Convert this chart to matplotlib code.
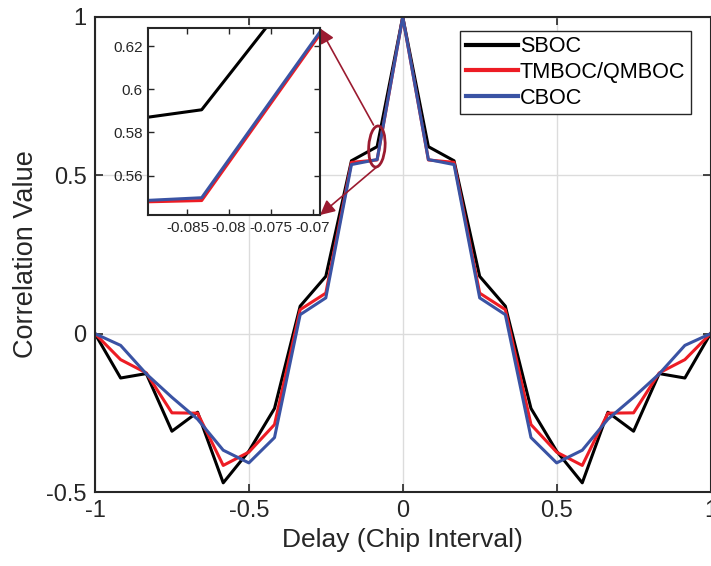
import matplotlib
matplotlib.use("Agg")
import matplotlib.pyplot as plt
from matplotlib.patches import Ellipse

plt.rcParams["font.family"] = ["Liberation Sans", "DejaVu Sans"]

# delay grid (chip interval), step 1/12
delay = [-1.0, -0.9167, -0.8333, -0.75, -0.6667, -0.5833, -0.5, -0.4167, -0.3333,
         -0.25, -0.1667, -0.0833, 0.0, 0.0833, 0.1667, 0.25, 0.3333, 0.4167, 0.5,
         0.5833, 0.6667, 0.75, 0.8333, 0.9167, 1.0]

sboc = [0.0, -0.140, -0.126, -0.308, -0.248, -0.471, -0.371, -0.236, 0.087, 0.181,
        0.546, 0.5905, 1.0, 0.5905, 0.546, 0.181, 0.087, -0.236, -0.371, -0.471,
        -0.248, -0.308, -0.126, -0.140, 0.0]
tmboc = [0.0, -0.082, -0.124, -0.250, -0.251, -0.416, -0.374, -0.287, 0.076, 0.128,
         0.541, 0.5485, 1.0, 0.5485, 0.541, 0.128, 0.076, -0.287, -0.374, -0.416,
         -0.251, -0.250, -0.124, -0.082, 0.0]
cboc = [0.0, -0.037, -0.127, -0.201, -0.270, -0.368, -0.408, -0.328, 0.060, 0.113,
        0.534, 0.5498, 1.0, 0.5498, 0.534, 0.113, 0.060, -0.328, -0.408, -0.368,
        -0.270, -0.201, -0.127, -0.037, 0.0]

labels = ["SBOC", "TMBOC/QMBOC", "CBOC"]
colors = ["#000000", "#ED1C24", "#3A53A4"]

xticks = [-1, -0.5, 0, 0.5, 1]
yticks = [-0.5, 0, 0.5, 1]
inset_xticks = [-0.085, -0.08, -0.075, -0.07]
inset_yticks = [0.56, 0.58, 0.6, 0.62]

txt = "#262626"
mark = "#9B1B30"

fig = plt.figure(figsize=(7.11, 5.66), dpi=100)
ax = fig.add_axes([0.1336, 0.1307, 0.8657, 0.8393])

for y, c, lab in zip([sboc, tmboc, cboc], colors, labels):
    ax.plot(delay, y, color=c, lw=2.2, label=lab)

ax.set_xlim(-1, 1)
ax.set_ylim(-0.5, 1)
ax.set_xticks(xticks)
ax.set_xticklabels(["-1", "-0.5", "0", "0.5", "1"])
ax.set_yticks(yticks)
ax.set_yticklabels(["-0.5", "0", "0.5", "1"])
ax.grid(True, color="#dcdcdc", lw=1)
ax.tick_params(direction="in", length=6, width=1.2, top=True, right=True,
               labelsize=17, colors=txt, pad=6)
for s in ax.spines.values():
    s.set_color(txt)
    s.set_linewidth(1.5)
ax.set_xlabel("Delay (Chip Interval)", fontsize=19, color=txt, labelpad=4)
ax.set_ylabel("Correlation Value", fontsize=19.5, color=txt, labelpad=5)

leg = ax.legend(loc="upper right", bbox_to_anchor=(0.968, 0.971), borderaxespad=0,
                fontsize=15.6, fancybox=False, handlelength=2.4, handletextpad=0.1,
                labelspacing=0.22, borderpad=0.25, framealpha=1)
leg.get_frame().set_edgecolor(txt)
leg.get_frame().set_linewidth(1.0)
for h in leg.get_lines():
    h.set_linewidth(3)

# inset zoom
axins = fig.add_axes([0.2086, 0.6201, 0.2415, 0.3299])
for y, c in zip([sboc, tmboc, cboc], colors):
    axins.plot(delay, y, color=c, lw=2.2)
axins.set_xlim(-0.0897, -0.0691)
axins.set_ylim(0.5418, 0.6282)
axins.set_xticks(inset_xticks)
axins.set_xticklabels(["-0.085", "-0.08", "-0.075", "-0.07"])
axins.set_yticks(inset_yticks)
axins.set_yticklabels(["0.56", "0.58", "0.6", "0.62"])
axins.tick_params(direction="in", length=4, width=1, top=True, right=True,
                  labelsize=11, colors=txt, pad=4)
for s in axins.spines.values():
    s.set_color(txt)
    s.set_linewidth(1.5)

# ellipse marking the zoomed region, and arrows to inset corners
ax.add_patch(Ellipse((-0.084, 0.591), 0.053, 0.13, angle=-4, fill=False,
                     edgecolor=mark, lw=2, zorder=5))
arrow = dict(arrowstyle="-|>", color=mark, lw=1.2, mutation_scale=22,
             shrinkA=0, shrinkB=0)
ax.annotate("", xy=(1.0, 1.0), xycoords=axins.transAxes, xytext=(-0.095, 0.659),
            textcoords="data", arrowprops=arrow, annotation_clip=False)
ax.annotate("", xy=(1.0, 0.0), xycoords=axins.transAxes, xytext=(-0.085, 0.526),
            textcoords="data", arrowprops=arrow, annotation_clip=False)

fig.savefig("out.png", dpi=100)
